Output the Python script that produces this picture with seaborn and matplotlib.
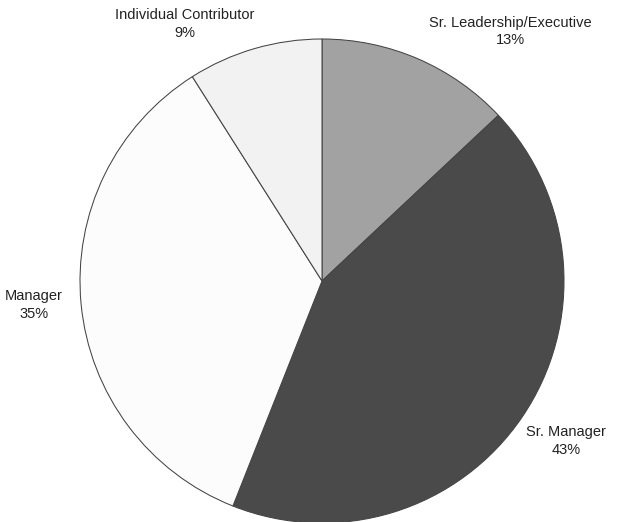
import matplotlib
matplotlib.use("Agg")
import matplotlib.pyplot as plt
import seaborn as sns

categories = ["Sr. Leadership/Executive", "Sr. Manager", "Manager", "Individual Contributor"]
values = [13, 43, 35, 9]
colors = ["#a2a2a2", "#4a4a4a", "#fcfcfc", "#f2f2f2"]
label_pos = [(0.777, 1.031), (1.008, -0.661), (-1.19, -0.099), (-0.566, 1.062)]

sns.set_theme(style="white")
plt.rcParams['font.family'] = ['Liberation Sans', 'DejaVu Sans']

W, H = 617, 522
fig = plt.figure(figsize=(W / 100, H / 100), dpi=100)
cx, cy, r = 322, 281, 242
ax = fig.add_axes([(cx - r) / W, (H - cy - r) / H, 2 * r / W, 2 * r / H])
wedges, _ = ax.pie(values, colors=colors, startangle=90, counterclock=False,
                   radius=1, wedgeprops=dict(edgecolor="#444444", linewidth=0.75))
ax.set_xlim(-1, 1)
ax.set_ylim(-1, 1)
ax.set_aspect("equal")
ax.axis("off")
for cat, v, (x, y) in zip(categories, values, label_pos):
    ax.text(x, y, f"{cat}\n{v}%", ha="center", va="center", fontsize=10.5,
            color="#222222", linespacing=1.3, clip_on=False)
fig.savefig("out.png", dpi=100)
